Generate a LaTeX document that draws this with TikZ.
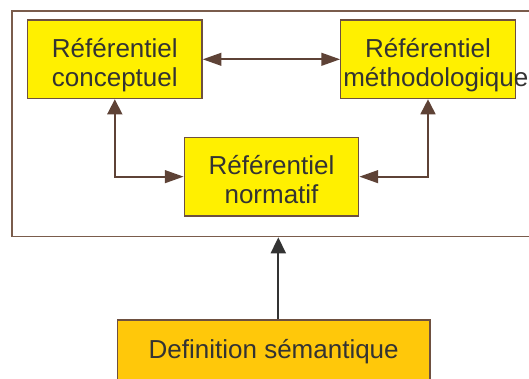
\documentclass[tikz,border=0pt]{standalone}
\usepackage{fontspec}
\setmainfont{Liberation Sans}
\usetikzlibrary{arrows.meta}
\definecolor{boxyellow}{HTML}{FFF000}
\definecolor{boxorange}{HTML}{FFC80A}
\definecolor{boxline}{HTML}{6E5040}
\definecolor{connbrown}{HTML}{5E4236}
\definecolor{txtgray}{HTML}{333333}
\definecolor{framebrown}{HTML}{7A5C4C}
\tikzset{
  refbox/.style={draw=boxline, line width=1.3pt, fill=boxyellow, inner xsep=2.5pt, inner ysep=0pt,
    minimum width=174.5pt, minimum height=78.7pt, text width=169.5pt, align=center,
    text height=19pt, text depth=23pt, font=\fontsize{26}{29}\selectfont, text=txtgray},
  defbox/.style={draw=boxline, line width=1.3pt, fill=boxorange, inner sep=0pt,
    minimum width=312.7pt, minimum height=80pt, text height=19pt, text depth=21.6pt,
    font=\fontsize{26}{29}\selectfont, text=txtgray},
  vtip/.tip={Triangle[length=15pt,width=15pt]},
  htip/.tip={Triangle[length=18.7pt,width=12.8pt]},
  conn/.style={draw=connbrown, line width=1.7pt},
}
\begin{document}
\begin{tikzpicture}[x=1pt,y=-1pt]
\useasboundingbox (0,0) rectangle (529,378);
\node[draw=framebrown, line width=1.6pt, minimum width=540pt, minimum height=225.7pt, inner sep=0pt, anchor=north west] (frame) at (11,10) {};
\node[refbox] (c) at (114.8,59.3) {Référentiel\\conceptuel};
\node[refbox] (m) at (428,59.3) {Référentiel\\\mbox{méthodologique}};
\node[refbox] (n) at (271.5,176.65) {Référentiel\\normatif};
\node[defbox, anchor=north] (d) at (273.7,319.3) {Definition sémantique};
\draw[conn, htip-htip] (c.east) -- (m.west);
\draw[conn, vtip-htip] (c.south) |- (n.west);
\draw[conn, vtip-htip] (m.south) |- (n.east);
\draw[draw=txtgray, line width=1.8pt, -{Triangle[length=16pt,width=15pt]}] ([xshift=4.6pt]d.north) -- ([xshift=4.6pt]d.north |- frame.south);
\end{tikzpicture}
\end{document}
